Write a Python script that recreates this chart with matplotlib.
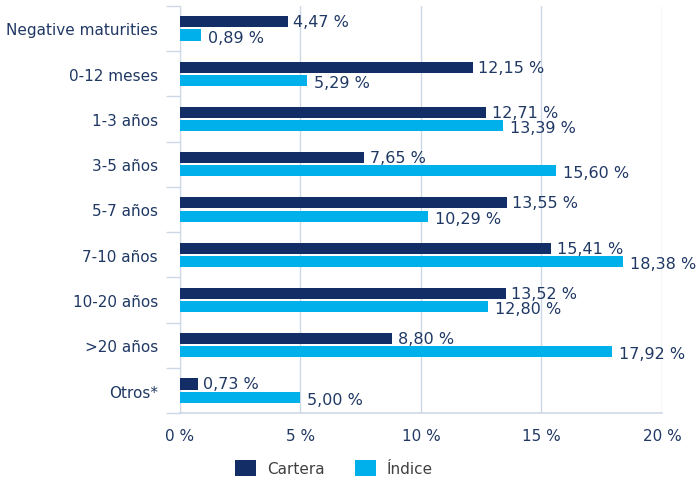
import matplotlib
matplotlib.use("Agg")
import matplotlib.pyplot as plt
import numpy as np

categories = ["Negative maturities", "0-12 meses", "1-3 años", "3-5 años", "5-7 años",
              "7-10 años", "10-20 años", ">20 años", "Otros*"]
cartera = [4.47, 12.15, 12.71, 7.65, 13.55, 15.41, 13.52, 8.80, 0.73]
indice = [0.89, 5.29, 13.39, 15.60, 10.29, 18.38, 12.80, 17.92, 5.00]
xticks = [0, 5, 10, 15, 20]

navy = "#132D66"
cyan = "#00B0EA"
txt = "#1F3864"
grid = "#CDD8E6"

plt.rcParams['font.family'] = ['DejaVu Sans']

fig = plt.figure(figsize=(6.96, 4.85), dpi=100)
ax = fig.add_axes([0.2586, 0.146, 0.6925, 0.84])

y = np.arange(len(categories))
h = 0.245
off = 0.145
b1 = ax.barh(y - off, cartera, height=h, color=navy, label="Cartera", zorder=3)
b2 = ax.barh(y + off, indice, height=h, color=cyan, label="Índice", zorder=3)

def fmt(v):
    return f"{v:.2f} %".replace(".", ",")

for yi, v in zip(y, cartera):
    ax.annotate(fmt(v), (v, yi - off), xytext=(4, 0), textcoords="offset points",
                va="center", ha="left", fontsize=11.5, color=txt)
for yi, v in zip(y, indice):
    ax.annotate(fmt(v), (v, yi + off), xytext=(5, -1.5), textcoords="offset points",
                va="center", ha="left", fontsize=11.5, color=txt)

ax.set_xlim(0, 20)
ax.set_ylim(len(categories) - 0.5, -0.5)
ax.set_xticks(xticks)
ax.set_xticklabels([f"{t} %" for t in xticks], fontsize=11, color=txt)
ax.set_yticks(y)
ax.set_yticklabels(categories, fontsize=11, color=txt)
ax.set_yticks(np.arange(-0.5, len(categories)), minor=True)
ax.tick_params(axis="y", which="major", length=0, pad=16)
ax.tick_params(axis="y", which="minor", length=10, color=grid, width=1)
ax.tick_params(axis="x", length=0, pad=11)

ax.grid(axis="x", color=grid, linewidth=1, zorder=0)
for s in ["top", "right"]:
    ax.spines[s].set_visible(False)
ax.spines["left"].set_color(grid)
ax.spines["bottom"].set_color(grid)
ax.spines["bottom"].set_linewidth(1.2)

fig.legend(handles=[b1, b2], loc="center", bbox_to_anchor=(0.48, 0.033), ncol=2,
           frameon=False, fontsize=11, labelcolor="#404040",
           handlelength=1.4, handleheight=1.2, columnspacing=2.0, handletextpad=0.7)

fig.savefig("out.png", dpi=100)
